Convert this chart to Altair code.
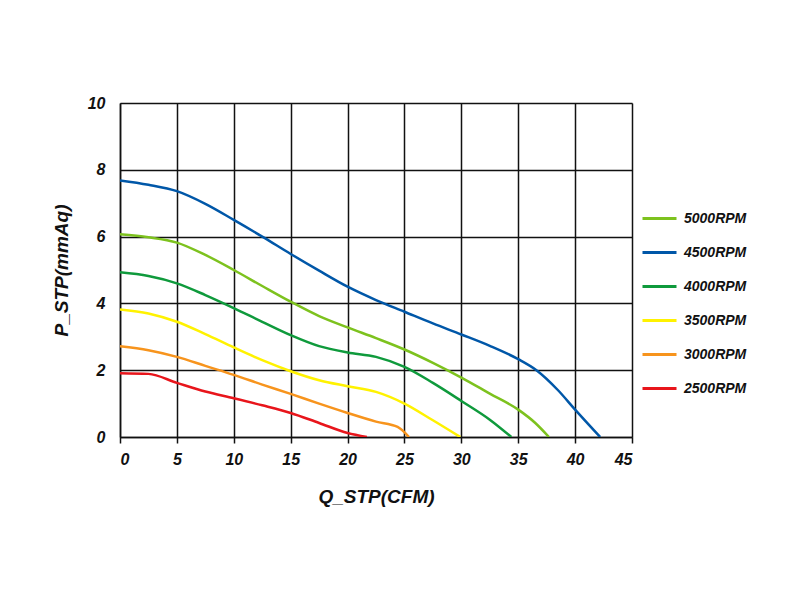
import altair as alt
import pandas as pd

series = ["5000RPM", "4500RPM", "4000RPM", "3500RPM", "3000RPM", "2500RPM"]
colors = ["#7DC21E", "#0057A8", "#0F9A3C", "#FFF200", "#F7941D", "#E8151B"]

q_5000 = [0, 2.5, 5, 7.5, 10, 12.5, 15, 17.5, 20, 22.5, 25, 27.5, 30, 32.5, 35, 36.5, 37.7]
p_5000 = [6.07, 5.98, 5.82, 5.45, 5.0, 4.52, 4.05, 3.62, 3.28, 2.96, 2.62, 2.22, 1.78, 1.3, 0.82, 0.42, 0.0]

q_4500 = [0, 2.5, 5, 7.5, 10, 12.5, 15, 17.5, 20, 22.5, 25, 27.5, 30, 32.5, 35, 36.6, 38.5, 40, 42.2]
p_4500 = [7.68, 7.55, 7.36, 6.98, 6.5, 6.0, 5.48, 4.98, 4.5, 4.1, 3.75, 3.4, 3.07, 2.73, 2.33, 2.0, 1.4, 0.82, 0.0]

q_4000 = [0, 2.5, 5, 7.5, 10, 12.5, 15, 17.5, 20, 22.5, 25, 27.5, 30, 32.5, 34.4]
p_4000 = [4.93, 4.82, 4.6, 4.25, 3.86, 3.45, 3.05, 2.72, 2.53, 2.4, 2.1, 1.62, 1.08, 0.52, 0.0]

q_3500 = [0, 2.5, 5, 7.5, 10, 12.5, 15, 17.5, 20, 22.5, 25, 27.5, 29.9]
p_3500 = [3.82, 3.7, 3.45, 3.08, 2.68, 2.3, 1.97, 1.7, 1.52, 1.35, 1.0, 0.5, 0.0]

q_3000 = [0, 2.5, 5, 7.5, 10, 12.5, 15, 17.5, 20, 22.5, 24.4, 25.4]
p_3000 = [2.72, 2.6, 2.4, 2.13, 1.86, 1.57, 1.29, 1.0, 0.72, 0.46, 0.3, 0.0]

q_2500 = [0, 2.5, 5, 7.5, 10, 12.5, 15, 17.5, 20, 21.7]
p_2500 = [1.91, 1.89, 1.62, 1.36, 1.16, 0.95, 0.72, 0.42, 0.12, 0.0]

x_ticks = [0, 5, 10, 15, 20, 25, 30, 35, 40, 45]
y_ticks = [0, 2, 4, 6, 8, 10]

qs = [q_5000, q_4500, q_4000, q_3500, q_3000, q_2500]
ps = [p_5000, p_4500, p_4000, p_3500, p_3000, p_2500]

rows = []
for name, q, p in zip(series, qs, ps):
    for i, (a, b) in enumerate(zip(q, p)):
        rows.append({"series": name, "Q": a, "P": b, "order": i})
df = pd.DataFrame(rows)

FONT = "Liberation Sans"

chart = (
    alt.Chart(df)
    .mark_line(strokeWidth=2.5, interpolate="monotone", clip=True)
    .encode(
        x=alt.X(
            "Q:Q",
            scale=alt.Scale(domain=[0, 45], nice=False),
            axis=alt.Axis(
                values=x_ticks,
                title="Q_STP(CFM)",
                grid=True,
                gridColor="#111111",
                gridWidth=1.5,
                gridOpacity=1,
                domainColor="#111111",
                domainWidth=1.5,
                ticks=True,
                tickColor="#111111",
                tickWidth=1.5,
                tickSize=6,
                labelFont=FONT,
                labelFontSize=16,
                labelFontStyle="italic",
                labelFontWeight="bold",
                labelColor="#111111",
                labelPadding=8,
                titleFont=FONT,
                titleFontSize=19,
                titleFontStyle="italic",
                titleFontWeight="bold",
                titleColor="#111111",
                titlePadding=20,
            ),
        ),
        y=alt.Y(
            "P:Q",
            scale=alt.Scale(domain=[0, 10], nice=False),
            axis=alt.Axis(
                values=y_ticks,
                title="P_STP(mmAq)",
                grid=True,
                gridColor="#111111",
                gridWidth=1.5,
                gridOpacity=1,
                domainColor="#111111",
                domainWidth=1.5,
                ticks=False,
                labelFont=FONT,
                labelFontSize=16,
                labelFontStyle="italic",
                labelFontWeight="bold",
                labelColor="#111111",
                labelPadding=15,
                titleFont=FONT,
                titleFontSize=19,
                titleFontStyle="italic",
                titleFontWeight="bold",
                titleColor="#111111",
                titlePadding=16,
            ),
        ),
        color=alt.Color(
            "series:N",
            scale=alt.Scale(domain=series, range=colors),
            legend=alt.Legend(
                title=None,
                orient="none",
                legendX=521,
                legendY=97,
                symbolType="stroke",
                symbolStrokeWidth=3,
                symbolSize=1156,
                labelFont=FONT,
                labelFontSize=14,
                labelFontStyle="italic",
                labelFontWeight="bold",
                labelColor="#111111",
                rowPadding=8,
                labelOffset=6,
            ),
        ),
        order="order:Q",
    )
    .properties(
        width=512,
        height=334,
        autosize=alt.AutoSizeParams(type="none"),
        padding={"left": 120, "top": 103, "right": 168, "bottom": 163},
    )
    .configure_view(stroke="#111111", strokeWidth=1.5)
    .configure(background="white")
)

chart.save("out.html", embed_options={"renderer": "svg", "actions": False})
